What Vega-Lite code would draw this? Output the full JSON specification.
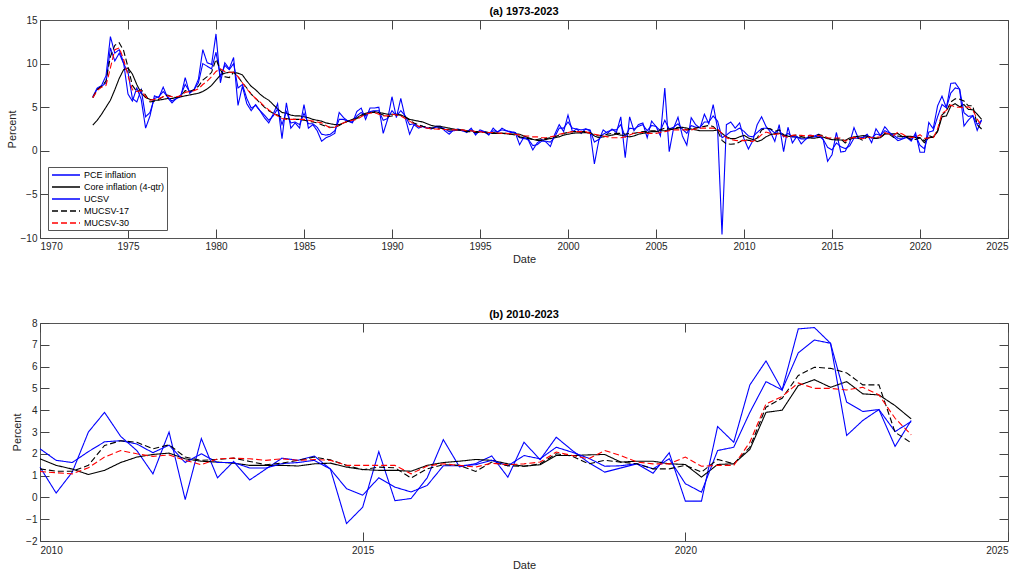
{
  "$schema": "https://vega.github.io/schema/vega-lite/v6.json",
  "background": "white",
  "padding": {"left": 5, "top": 5, "right": 10, "bottom": 0},
  "datasets": {
    "d": [
      {"t":1973,"P":6.2,"C":2.95,"U":6.1,"A":6.1,"B":6.1},
      {"t":1973.25,"P":7.2,"C":3.5,"U":7.1,"A":7.0,"B":6.9},
      {"t":1973.5,"P":7.5,"C":4.2,"U":7.4,"A":7.4,"B":7.3},
      {"t":1973.75,"P":8.6,"C":5.0,"U":7.8,"A":8.0,"B":7.5},
      {"t":1974,"P":13.1,"C":5.8,"U":11.8,"A":10.8,"B":9.5},
      {"t":1974.25,"P":11.2,"C":7.0,"U":10.3,"A":12.1,"B":11.6},
      {"t":1974.5,"P":11.6,"C":8.3,"U":11.2,"A":12.4,"B":11.8},
      {"t":1974.75,"P":10.1,"C":9.3,"U":10.0,"A":11.5,"B":10.5},
      {"t":1975,"P":6.5,"C":9.5,"U":9.0,"A":9.6,"B":8.6},
      {"t":1975.25,"P":5.7,"C":8.8,"U":6.0,"A":7.5,"B":7.0},
      {"t":1975.5,"P":7.2,"C":7.6,"U":5.6,"A":6.8,"B":6.8},
      {"t":1975.75,"P":5.9,"C":6.6,"U":7.0,"A":7.0,"B":6.9},
      {"t":1976,"P":2.6,"C":6.1,"U":3.9,"A":6.4,"B":6.2},
      {"t":1976.25,"P":4.0,"C":5.9,"U":4.4,"A":5.6,"B":5.8},
      {"t":1976.5,"P":6.3,"C":5.8,"U":6.0,"A":5.7,"B":5.9},
      {"t":1976.75,"P":6.1,"C":5.8,"U":6.2,"A":5.9,"B":6.0},
      {"t":1977,"P":7.3,"C":5.9,"U":6.8,"A":6.2,"B":6.2},
      {"t":1977.25,"P":6.1,"C":6.0,"U":6.2,"A":6.4,"B":6.3},
      {"t":1977.5,"P":5.5,"C":6.0,"U":5.7,"A":6.2,"B":6.2},
      {"t":1977.75,"P":6.0,"C":6.1,"U":6.0,"A":6.1,"B":6.2},
      {"t":1978,"P":6.2,"C":6.2,"U":6.4,"A":6.3,"B":6.3},
      {"t":1978.25,"P":8.4,"C":6.3,"U":7.6,"A":6.9,"B":6.7},
      {"t":1978.5,"P":6.6,"C":6.4,"U":6.8,"A":6.8,"B":6.8},
      {"t":1978.75,"P":7.0,"C":6.5,"U":7.0,"A":7.0,"B":6.9},
      {"t":1979,"P":8.2,"C":6.6,"U":7.8,"A":7.4,"B":7.1},
      {"t":1979.25,"P":11.6,"C":6.8,"U":10.0,"A":8.1,"B":7.6},
      {"t":1979.5,"P":10.1,"C":7.1,"U":9.7,"A":8.5,"B":8.0},
      {"t":1979.75,"P":9.9,"C":7.5,"U":9.4,"A":9.0,"B":8.5},
      {"t":1980,"P":13.4,"C":8.1,"U":11.3,"A":10.5,"B":9.1},
      {"t":1980.25,"P":7.8,"C":8.7,"U":8.5,"A":9.3,"B":9.4},
      {"t":1980.5,"P":10.1,"C":8.9,"U":9.8,"A":8.5,"B":9.1},
      {"t":1980.75,"P":9.4,"C":9.0,"U":9.3,"A":8.4,"B":9.0},
      {"t":1981,"P":10.7,"C":9.0,"U":10.0,"A":9.0,"B":9.0},
      {"t":1981.25,"P":5.2,"C":8.9,"U":7.2,"A":8.5,"B":8.5},
      {"t":1981.5,"P":7.4,"C":8.7,"U":7.6,"A":7.8,"B":7.8},
      {"t":1981.75,"P":5.4,"C":8.0,"U":6.0,"A":7.2,"B":7.1},
      {"t":1982,"P":4.6,"C":7.4,"U":4.9,"A":6.5,"B":6.5},
      {"t":1982.25,"P":5.3,"C":7.0,"U":5.2,"A":6.0,"B":6.0},
      {"t":1982.5,"P":4.6,"C":6.5,"U":4.6,"A":5.5,"B":5.6},
      {"t":1982.75,"P":3.8,"C":6.1,"U":4.1,"A":5.0,"B":5.1},
      {"t":1983,"P":3.2,"C":5.8,"U":3.5,"A":4.6,"B":4.7},
      {"t":1983.25,"P":4.2,"C":5.3,"U":4.0,"A":4.3,"B":4.3},
      {"t":1983.5,"P":5.4,"C":4.8,"U":4.8,"A":4.1,"B":4.0},
      {"t":1983.75,"P":1.4,"C":4.4,"U":3.0,"A":3.8,"B":3.7},
      {"t":1984,"P":5.5,"C":4.3,"U":4.5,"A":3.7,"B":3.6},
      {"t":1984.25,"P":2.6,"C":4.1,"U":3.2,"A":3.6,"B":3.6},
      {"t":1984.5,"P":3.2,"C":4.0,"U":3.3,"A":3.6,"B":3.6},
      {"t":1984.75,"P":2.6,"C":4.0,"U":3.0,"A":3.6,"B":3.6},
      {"t":1985,"P":5.3,"C":3.9,"U":4.3,"A":3.5,"B":3.6},
      {"t":1985.25,"P":2.6,"C":3.8,"U":3.1,"A":3.4,"B":3.5},
      {"t":1985.5,"P":3.0,"C":3.6,"U":3.1,"A":3.3,"B":3.4},
      {"t":1985.75,"P":2.3,"C":3.5,"U":2.7,"A":3.2,"B":3.3},
      {"t":1986,"P":1.1,"C":3.4,"U":1.9,"A":3.0,"B":3.2},
      {"t":1986.25,"P":1.5,"C":3.2,"U":1.8,"A":2.8,"B":2.9},
      {"t":1986.5,"P":1.7,"C":3.1,"U":1.9,"A":2.7,"B":2.6},
      {"t":1986.75,"P":2.0,"C":3.0,"U":2.3,"A":2.7,"B":2.7},
      {"t":1987,"P":4.4,"C":3.0,"U":3.6,"A":2.9,"B":3.0},
      {"t":1987.25,"P":3.8,"C":3.2,"U":3.6,"A":3.2,"B":3.2},
      {"t":1987.5,"P":3.4,"C":3.4,"U":3.4,"A":3.4,"B":3.4},
      {"t":1987.75,"P":3.2,"C":3.6,"U":3.3,"A":3.5,"B":3.5},
      {"t":1988,"P":4.5,"C":3.8,"U":4.0,"A":3.7,"B":3.6},
      {"t":1988.25,"P":4.9,"C":4.1,"U":4.4,"A":4.0,"B":3.9},
      {"t":1988.5,"P":3.6,"C":4.3,"U":4.0,"A":4.2,"B":4.2},
      {"t":1988.75,"P":4.9,"C":4.4,"U":4.5,"A":4.4,"B":4.3},
      {"t":1989,"P":4.9,"C":4.5,"U":4.6,"A":4.4,"B":4.4},
      {"t":1989.25,"P":5.0,"C":4.4,"U":4.6,"A":4.3,"B":4.2},
      {"t":1989.5,"P":2.0,"C":4.3,"U":3.5,"A":4.1,"B":4.0},
      {"t":1989.75,"P":3.6,"C":4.2,"U":3.7,"A":3.9,"B":4.0},
      {"t":1990,"P":6.2,"C":4.2,"U":4.6,"A":4.0,"B":4.2},
      {"t":1990.25,"P":3.8,"C":4.2,"U":4.0,"A":4.1,"B":4.1},
      {"t":1990.5,"P":6.0,"C":4.1,"U":4.6,"A":4.1,"B":4.0},
      {"t":1990.75,"P":3.8,"C":3.9,"U":4.0,"A":3.9,"B":3.7},
      {"t":1991,"P":1.9,"C":3.6,"U":3.0,"A":3.5,"B":3.4},
      {"t":1991.25,"P":3.0,"C":3.5,"U":3.1,"A":3.2,"B":3.1},
      {"t":1991.5,"P":2.6,"C":3.4,"U":2.8,"A":3.0,"B":2.8},
      {"t":1991.75,"P":2.8,"C":3.3,"U":2.8,"A":2.8,"B":2.7},
      {"t":1992,"P":2.6,"C":3.1,"U":2.6,"A":2.7,"B":2.6},
      {"t":1992.25,"P":2.5,"C":2.9,"U":2.6,"A":2.6,"B":2.5},
      {"t":1992.5,"P":2.8,"C":2.8,"U":2.7,"A":2.6,"B":2.5},
      {"t":1992.75,"P":2.8,"C":2.8,"U":2.7,"A":2.6,"B":2.45},
      {"t":1993,"P":2.3,"C":2.7,"U":2.5,"A":2.5,"B":2.45},
      {"t":1993.25,"P":1.9,"C":2.6,"U":2.2,"A":2.4,"B":2.4},
      {"t":1993.5,"P":2.4,"C":2.5,"U":2.3,"A":2.4,"B":2.4},
      {"t":1993.75,"P":2.5,"C":2.4,"U":2.4,"A":2.4,"B":2.4},
      {"t":1994,"P":2.3,"C":2.4,"U":2.3,"A":2.3,"B":2.4},
      {"t":1994.25,"P":2.1,"C":2.3,"U":2.2,"A":2.2,"B":2.3},
      {"t":1994.5,"P":2.6,"C":2.3,"U":2.4,"A":2.2,"B":2.3},
      {"t":1994.75,"P":1.8,"C":2.2,"U":2.0,"A":2.1,"B":2.2},
      {"t":1995,"P":2.4,"C":2.2,"U":2.2,"A":2.1,"B":2.2},
      {"t":1995.25,"P":2.2,"C":2.2,"U":2.2,"A":2.1,"B":2.1},
      {"t":1995.5,"P":1.8,"C":2.1,"U":1.9,"A":2.0,"B":2.1},
      {"t":1995.75,"P":2.6,"C":2.1,"U":2.3,"A":2.0,"B":2.1},
      {"t":1996,"P":2.1,"C":2.0,"U":2.2,"A":2.0,"B":2.05},
      {"t":1996.25,"P":2.6,"C":2.0,"U":2.4,"A":2.0,"B":2.0},
      {"t":1996.5,"P":2.3,"C":1.95,"U":2.3,"A":2.0,"B":2.0},
      {"t":1996.75,"P":2.1,"C":1.9,"U":2.2,"A":1.9,"B":1.95},
      {"t":1997,"P":2.1,"C":1.95,"U":2.1,"A":1.8,"B":1.9},
      {"t":1997.25,"P":0.7,"C":1.9,"U":1.5,"A":1.6,"B":1.8},
      {"t":1997.5,"P":1.6,"C":1.7,"U":1.4,"A":1.5,"B":1.7},
      {"t":1997.75,"P":1.2,"C":1.5,"U":1.3,"A":1.4,"B":1.7},
      {"t":1998,"P":0.1,"C":1.3,"U":0.6,"A":1.3,"B":1.6},
      {"t":1998.25,"P":0.9,"C":1.2,"U":0.7,"A":1.3,"B":1.6},
      {"t":1998.5,"P":1.3,"C":1.2,"U":1.1,"A":1.4,"B":1.5},
      {"t":1998.75,"P":1.0,"C":1.3,"U":1.1,"A":1.4,"B":1.5},
      {"t":1999,"P":0.5,"C":1.4,"U":1.0,"A":1.5,"B":1.6},
      {"t":1999.25,"P":1.9,"C":1.5,"U":1.6,"A":1.6,"B":1.7},
      {"t":1999.5,"P":3.0,"C":1.6,"U":2.6,"A":1.8,"B":1.9},
      {"t":1999.75,"P":2.2,"C":1.8,"U":2.6,"A":2.0,"B":2.0},
      {"t":2000,"P":4.1,"C":1.9,"U":3.3,"A":2.1,"B":2.1},
      {"t":2000.25,"P":2.2,"C":2.0,"U":2.6,"A":2.2,"B":2.2},
      {"t":2000.5,"P":2.5,"C":2.05,"U":2.5,"A":2.2,"B":2.2},
      {"t":2000.75,"P":2.0,"C":2.05,"U":2.4,"A":2.2,"B":2.2},
      {"t":2001,"P":2.5,"C":2.1,"U":2.5,"A":2.2,"B":2.2},
      {"t":2001.25,"P":2.3,"C":2.0,"U":2.4,"A":2.1,"B":2.0},
      {"t":2001.5,"P":-1.5,"C":1.7,"U":1.0,"A":1.8,"B":1.9},
      {"t":2001.75,"P":1.2,"C":1.5,"U":1.3,"A":1.7,"B":1.8},
      {"t":2002,"P":2.4,"C":1.6,"U":1.9,"A":1.8,"B":1.7},
      {"t":2002.25,"P":2.0,"C":1.7,"U":2.2,"A":1.9,"B":1.6},
      {"t":2002.5,"P":2.5,"C":1.8,"U":2.4,"A":2.0,"B":1.5},
      {"t":2002.75,"P":2.1,"C":1.9,"U":2.4,"A":2.0,"B":1.5},
      {"t":2003,"P":3.9,"C":1.8,"U":3.0,"A":2.0,"B":1.5},
      {"t":2003.25,"P":-0.8,"C":1.7,"U":1.6,"A":1.9,"B":1.6},
      {"t":2003.5,"P":3.9,"C":1.6,"U":2.6,"A":2.0,"B":1.8},
      {"t":2003.75,"P":2.3,"C":1.7,"U":2.5,"A":2.0,"B":2.0},
      {"t":2004,"P":3.0,"C":1.9,"U":2.8,"A":2.1,"B":2.1},
      {"t":2004.25,"P":3.2,"C":2.0,"U":3.0,"A":2.2,"B":2.1},
      {"t":2004.5,"P":1.5,"C":2.1,"U":2.3,"A":2.2,"B":2.0},
      {"t":2004.75,"P":3.4,"C":2.2,"U":2.9,"A":2.3,"B":2.0},
      {"t":2005,"P":2.8,"C":2.2,"U":2.8,"A":2.3,"B":2.0},
      {"t":2005.25,"P":1.7,"C":2.3,"U":2.3,"A":2.4,"B":2.1},
      {"t":2005.5,"P":7.2,"C":2.3,"U":3.5,"A":2.6,"B":2.2},
      {"t":2005.75,"P":-0.1,"C":2.4,"U":2.5,"A":2.5,"B":2.3},
      {"t":2006,"P":2.6,"C":2.5,"U":2.7,"A":2.5,"B":2.4},
      {"t":2006.25,"P":3.85,"C":2.6,"U":3.1,"A":2.7,"B":2.4},
      {"t":2006.5,"P":1.7,"C":2.7,"U":2.5,"A":2.6,"B":2.4},
      {"t":2006.75,"P":0.65,"C":2.6,"U":2.0,"A":2.4,"B":2.4},
      {"t":2007,"P":3.8,"C":2.5,"U":2.9,"A":2.5,"B":2.4},
      {"t":2007.25,"P":3.0,"C":2.4,"U":2.7,"A":2.6,"B":2.5},
      {"t":2007.5,"P":2.6,"C":2.3,"U":2.7,"A":2.7,"B":2.6},
      {"t":2007.75,"P":4.2,"C":2.3,"U":3.3,"A":2.8,"B":2.6},
      {"t":2008,"P":3.1,"C":2.3,"U":3.3,"A":2.9,"B":2.6},
      {"t":2008.25,"P":5.3,"C":2.3,"U":4.0,"A":2.8,"B":2.6},
      {"t":2008.5,"P":2.5,"C":2.4,"U":3.4,"A":2.3,"B":2.5},
      {"t":2008.75,"P":-9.6,"C":2.0,"U":1.5,"A":1.2,"B":2.0},
      {"t":2009,"P":3.0,"C":1.6,"U":1.8,"A":0.8,"B":1.5},
      {"t":2009.25,"P":3.3,"C":1.4,"U":2.2,"A":0.75,"B":1.3},
      {"t":2009.5,"P":2.6,"C":1.4,"U":2.3,"A":0.8,"B":1.2},
      {"t":2009.75,"P":3.2,"C":1.6,"U":2.6,"A":1.0,"B":1.15},
      {"t":2010,"P":1.39,"C":1.77,"U":2.23,"A":1.31,"B":1.19},
      {"t":2010.25,"P":0.2,"C":1.47,"U":1.7,"A":1.2,"B":1.13},
      {"t":2010.5,"P":1.16,"C":1.3,"U":1.6,"A":1.2,"B":1.08},
      {"t":2010.75,"P":3.0,"C":1.05,"U":2.1,"A":1.47,"B":1.36},
      {"t":2011,"P":3.9,"C":1.24,"U":2.55,"A":2.38,"B":1.85},
      {"t":2011.25,"P":2.8,"C":1.6,"U":2.6,"A":2.6,"B":2.15},
      {"t":2011.5,"P":2.15,"C":1.85,"U":2.45,"A":2.53,"B":2.0},
      {"t":2011.75,"P":1.08,"C":1.97,"U":2.05,"A":2.23,"B":1.88},
      {"t":2012,"P":3.0,"C":2.03,"U":2.4,"A":2.41,"B":1.95},
      {"t":2012.25,"P":-0.1,"C":1.77,"U":1.6,"A":1.85,"B":1.7},
      {"t":2012.5,"P":2.7,"C":1.66,"U":2.0,"A":1.7,"B":1.5},
      {"t":2012.75,"P":0.9,"C":1.62,"U":1.6,"A":1.74,"B":1.77},
      {"t":2013,"P":1.65,"C":1.57,"U":1.6,"A":1.8,"B":1.8},
      {"t":2013.25,"P":0.8,"C":1.47,"U":1.35,"A":1.65,"B":1.77},
      {"t":2013.5,"P":1.3,"C":1.47,"U":1.35,"A":1.5,"B":1.7},
      {"t":2013.75,"P":1.8,"C":1.47,"U":1.55,"A":1.57,"B":1.77},
      {"t":2014,"P":1.7,"C":1.44,"U":1.6,"A":1.7,"B":1.7},
      {"t":2014.25,"P":1.9,"C":1.54,"U":1.7,"A":1.85,"B":1.74},
      {"t":2014.5,"P":1.3,"C":1.57,"U":1.3,"A":1.72,"B":1.7},
      {"t":2014.75,"P":-1.2,"C":1.39,"U":0.4,"A":1.47,"B":1.47},
      {"t":2015,"P":-0.45,"C":1.28,"U":0.1,"A":1.27,"B":1.47},
      {"t":2015.25,"P":2.1,"C":1.24,"U":0.9,"A":1.39,"B":1.47},
      {"t":2015.5,"P":-0.15,"C":1.24,"U":0.47,"A":1.36,"B":1.47},
      {"t":2015.75,"P":-0.05,"C":1.2,"U":0.25,"A":0.89,"B":1.08},
      {"t":2016,"P":0.9,"C":1.47,"U":0.55,"A":1.31,"B":1.44},
      {"t":2016.25,"P":2.65,"C":1.6,"U":1.45,"A":1.5,"B":1.54},
      {"t":2016.5,"P":1.4,"C":1.66,"U":1.45,"A":1.47,"B":1.47},
      {"t":2016.75,"P":1.55,"C":1.74,"U":1.5,"A":1.19,"B":1.39},
      {"t":2017,"P":1.9,"C":1.7,"U":1.7,"A":1.62,"B":1.57},
      {"t":2017.25,"P":0.93,"C":1.54,"U":1.45,"A":1.45,"B":1.5},
      {"t":2017.5,"P":2.53,"C":1.43,"U":1.92,"A":1.43,"B":1.54},
      {"t":2017.75,"P":1.73,"C":1.5,"U":1.77,"A":1.54,"B":1.62},
      {"t":2018,"P":2.76,"C":1.92,"U":2.3,"A":2.0,"B":2.08},
      {"t":2018.25,"P":2.15,"C":1.92,"U":2.07,"A":1.89,"B":1.92},
      {"t":2018.5,"P":1.6,"C":1.95,"U":1.8,"A":1.54,"B":1.77},
      {"t":2018.75,"P":1.16,"C":1.97,"U":1.43,"A":1.7,"B":2.15},
      {"t":2019,"P":1.35,"C":1.62,"U":1.45,"A":1.62,"B":1.92},
      {"t":2019.25,"P":1.54,"C":1.66,"U":1.55,"A":1.54,"B":1.62},
      {"t":2019.5,"P":1.11,"C":1.66,"U":1.31,"A":1.31,"B":1.54},
      {"t":2019.75,"P":2.05,"C":1.54,"U":1.77,"A":1.31,"B":1.54},
      {"t":2020,"P":-0.17,"C":1.51,"U":0.63,"A":1.47,"B":1.85},
      {"t":2020.25,"P":-0.17,"C":0.93,"U":0.24,"A":1.16,"B":1.43},
      {"t":2020.5,"P":3.25,"C":1.51,"U":2.15,"A":1.74,"B":1.47},
      {"t":2020.75,"P":2.53,"C":1.54,"U":2.3,"A":1.54,"B":1.47},
      {"t":2021,"P":5.16,"C":2.2,"U":3.9,"A":2.3,"B":2.53},
      {"t":2021.25,"P":6.26,"C":3.9,"U":5.31,"A":4.14,"B":4.29},
      {"t":2021.5,"P":4.93,"C":4.0,"U":4.93,"A":4.55,"B":4.63},
      {"t":2021.75,"P":7.73,"C":5.13,"U":6.63,"A":5.59,"B":5.25},
      {"t":2022,"P":7.79,"C":5.4,"U":7.22,"A":5.97,"B":5.0},
      {"t":2022.25,"P":7.07,"C":5.05,"U":7.07,"A":5.92,"B":5.0},
      {"t":2022.5,"P":2.84,"C":5.31,"U":4.37,"A":5.71,"B":4.93},
      {"t":2022.75,"P":3.53,"C":4.75,"U":3.94,"A":5.16,"B":5.05},
      {"t":2023,"P":4.03,"C":4.7,"U":4.03,"A":5.16,"B":4.7},
      {"t":2023.25,"P":2.34,"C":4.21,"U":3.02,"A":2.99,"B":3.63},
      {"t":2023.5,"P":3.53,"C":3.6,"U":3.48,"A":2.5,"B":2.87}
    ]
  },
  "data": {"name": "d"},
  "transform": [{"fold": ["P", "C", "U", "A", "B"], "as": ["k", "v"]}],
  "spacing": 43,
  "vconcat": [
    {
      "width": 968,
      "height": 218,
      "title": {"text": "(a) 1973-2023"},
      "layer": [
        {
          "mark": {"type": "line", "strokeWidth": 1.1},
          "encoding": {
            "x": {"field": "t", "type": "quantitative",
                  "scale": {"domain": [1970, 2025], "nice": false, "zero": false},
                  "axis": {"values": [1970,1975,1980,1985,1990,1995,2000,2005,2010,2015,2020,2025], "format": "d", "title": "Date", "labelPadding": 3, "titlePadding": 2}},
            "y": {"field": "v", "type": "quantitative",
                  "scale": {"domain": [-10, 15], "nice": false, "zero": false},
                  "axis": {"values": [-10,-5,0,5,10,15], "title": "Percent"}},
            "color": {"field": "k", "type": "nominal",
                      "scale": {"domain": ["P","C","U","A","B"], "range": ["#0000ff","#000000","#0000ff","#000000","#ff0000"]},
                      "legend": {"orient": "bottom-left", "offset": 8, "title": null, "fillColor": "white", "strokeColor": "#555555", "padding": 2, "labelFontSize": 9, "labelFont": "Liberation Sans", "labelColor": "#000000", "symbolType": "M-2.8,0L2.8,0", "symbolSize": 100, "symbolStrokeWidth": 1.3, "symbolOffset": 10, "labelOffset": 12, "rowPadding": 1,
                                 "labelExpr": "{'P':'PCE inflation','C':'Core inflation (4-qtr)','U':'UCSV','A':'MUCSV-17','B':'MUCSV-30'}[datum.value]"}},
            "strokeDash": {"field": "k", "type": "nominal",
                      "scale": {"domain": ["P","C","U","A","B"], "range": [[1,0],[1,0],[1,0],[6,3],[6,3]]},
                      "legend": {"orient": "bottom-left", "offset": 8, "title": null, "fillColor": "white", "strokeColor": "#555555", "padding": 2, "labelFontSize": 9, "labelFont": "Liberation Sans", "labelColor": "#000000", "symbolType": "M-2.8,0L2.8,0", "symbolSize": 100, "symbolStrokeWidth": 1.3, "symbolOffset": 10, "labelOffset": 12, "rowPadding": 1,
                                 "labelExpr": "{'P':'PCE inflation','C':'Core inflation (4-qtr)','U':'UCSV','A':'MUCSV-17','B':'MUCSV-30'}[datum.value]"}}
          }
        },
        {
          "mark": {"type": "line", "opacity": 0},
          "encoding": {
            "x": {"field": "t", "type": "quantitative",
                  "axis": {"orient": "top", "values": [1970,1975,1980,1985,1990,1995,2000,2005,2010,2015,2020,2025], "labels": false, "title": null}},
            "y": {"field": "v", "type": "quantitative",
                  "axis": {"orient": "right", "values": [-10,-5,0,5,10,15], "labels": false, "title": null}},
            "detail": {"field": "k"}
          }
        }
      ],
      "resolve": {"axis": {"x": "independent", "y": "independent"}}
    },
    {
      "width": 968,
      "height": 218,
      "title": {"text": "(b) 2010-2023"},
      "transform": [{"filter": "datum.t >= 2010"}],
      "layer": [
        {
          "mark": {"type": "line", "strokeWidth": 1.1},
          "encoding": {
            "x": {"field": "t", "type": "quantitative",
                  "scale": {"domain": [2010, 2025], "nice": false, "zero": false},
                  "axis": {"values": [2010,2015,2020,2025], "format": "d", "title": "Date", "labelPadding": 4, "titlePadding": 4}},
            "y": {"field": "v", "type": "quantitative",
                  "scale": {"domain": [-2, 8], "nice": false, "zero": false},
                  "axis": {"values": [-2,-1,0,1,2,3,4,5,6,7,8], "title": "Percent"}},
            "color": {"field": "k", "type": "nominal",
                      "scale": {"domain": ["P","C","U","A","B"], "range": ["#0000ff","#000000","#0000ff","#000000","#ff0000"]},
                      "legend": null},
            "strokeDash": {"field": "k", "type": "nominal",
                      "scale": {"domain": ["P","C","U","A","B"], "range": [[1,0],[1,0],[1,0],[6,3],[6,3]]},
                      "legend": null}
          }
        },
        {
          "mark": {"type": "line", "opacity": 0},
          "encoding": {
            "x": {"field": "t", "type": "quantitative",
                  "axis": {"orient": "top", "values": [2010,2015,2020,2025], "labels": false, "title": null}},
            "y": {"field": "v", "type": "quantitative",
                  "axis": {"orient": "right", "values": [-2,-1,0,1,2,3,4,5,6,7,8], "labels": false, "title": null}},
            "detail": {"field": "k"}
          }
        }
      ],
      "resolve": {"axis": {"x": "independent", "y": "independent"}}
    }
  ],
  "resolve": {
    "scale": {"x": "independent", "y": "independent", "color": "independent", "strokeDash": "independent"},
    "legend": {"color": "independent", "strokeDash": "independent"}
  },
  "config": {
    "view": {"stroke": "#555555", "strokeWidth": 1},
    "title": {"font": "Liberation Sans", "fontSize": 11, "fontWeight": "bold", "color": "#000000", "offset": -2, "anchor": "middle"},
    "axis": {
      "grid": false,
      "domain": false,
      "offset": -9,
      "tickSize": 9,
      "tickColor": "#444444",
      "tickWidth": 1,
      "labelPadding": 3,
      "labelFont": "Liberation Sans",
      "labelFontSize": 10,
      "labelColor": "#262626",
      "titleFont": "Liberation Sans",
      "titleFontSize": 11,
      "titleFontWeight": "normal",
      "titleColor": "#262626",
      "titlePadding": 3
    }
  }
}
